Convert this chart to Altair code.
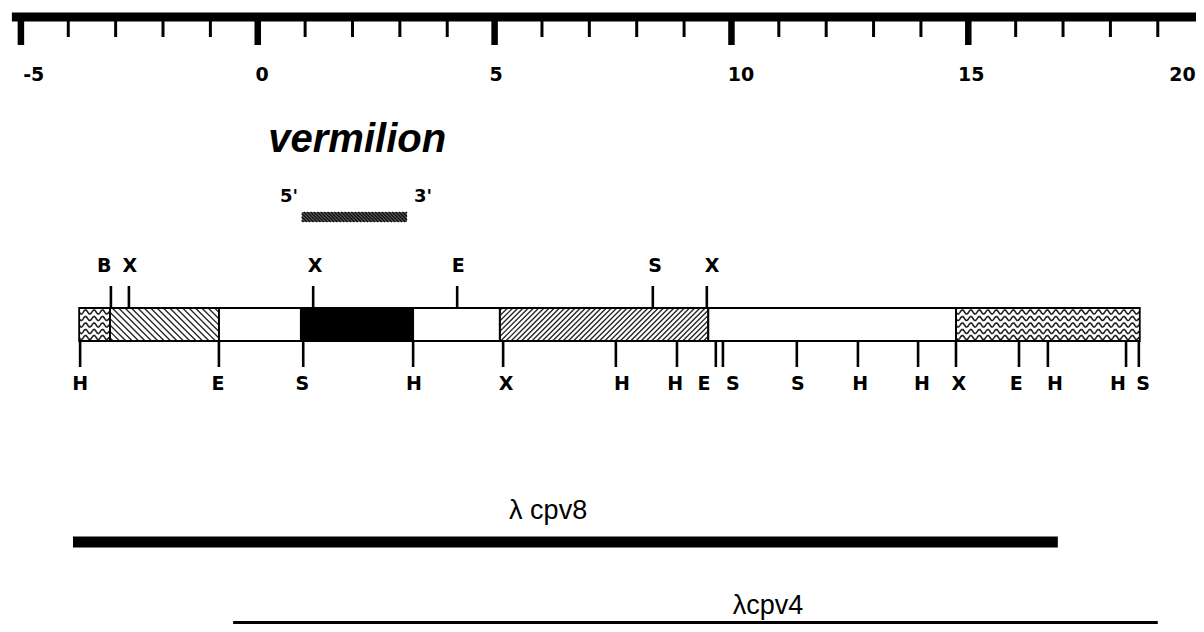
import altair as alt
import pandas as pd
import math

# ---------------- data (kb coordinates) ----------------
ruler_ticks = list(range(-5, 21))
ruler_major = [-5, 0, 5, 10, 15, 20]
ruler_labels = ["-5", "0", "5", "10", "15", "20"]
ruler_label_pos = [-4.73, 0.09, 5.03, 10.2, 15.06, 19.52]
ruler_extent = [-5.19, 20.5]

seg_start = [-3.77, -3.12, -0.82, 0.91, 3.28, 5.11, 9.51, 14.74]
seg_end = [-3.12, -0.82, 0.91, 3.28, 5.11, 9.51, 14.74, 18.62]
seg_kind = ["wavy", "hatch_back", "open", "solid", "open", "hatch_fwd", "open", "wavy"]

top_site_pos = [-3.10, -2.72, 1.17, 4.21, 8.34, 9.48]
top_site_lab = ["B", "X", "X", "E", "S", "X"]
top_label_pos = [-3.24, -2.70, 1.21, 4.23, 8.39, 9.59]

bot_site_pos = [-3.75, -0.82, 0.96, 3.28, 5.18, 7.56, 8.85, 9.67, 9.82,
                11.38, 12.67, 13.94, 14.74, 16.07, 16.68, 18.33, 18.60]
bot_site_lab = ["H", "E", "S", "H", "X", "H", "H", "E", "S",
                "S", "H", "H", "X", "E", "H", "H", "S"]
bot_label_pos = [-3.75, -0.84, 0.94, 3.30, 5.24, 7.69, 8.81, 9.42, 10.03,
                 11.40, 12.72, 14.02, 14.80, 16.01, 16.83, 18.16, 18.69]

gene_name = "vermilion"
gene_name_pos = 2.1
probe_extent = [0.93, 3.15]
probe_end_labels = ["5'", "3'"]
probe_end_pos = [0.66, 3.49]

clone_names = ["λ cpv8", "λcpv4"]
clone_start = [-3.90, -0.52]
clone_end = [16.89, 19.00]
clone_label_pos = [6.13, 10.77]

# ---------------- layout / style ----------------
W, H = 1188, 616
PX_PER_KB = 47.37
X_ORIGIN = 257.75  # page x of 0 kb
XS = alt.Scale(domain=[(8 - X_ORIGIN) / PX_PER_KB, (8 + W - X_ORIGIN) / PX_PER_KB],
               nice=False, zero=False)
YS = alt.Scale(domain=[8, 8 + H], reverse=True, nice=False, zero=False)

RULER_Y, MINOR_END, MAJOR_END, RULER_LAB_Y = 17, 37, 45, 75
BAR_TOP, BAR_BOT = 308, 341
TOP_TICK_END, BOT_TICK_END = 286, 367
TOP_LAB_Y, BOT_LAB_Y = 266, 384
GENE_Y = 140
PROBE_TOP, PROBE_BOT, PROBE_LAB_Y = 212, 222, 197
CLONE_Y = [542, 628]
CLONE_W = [11, 14]
CLONE_LAB_Y = [511, 606]

FONT = "Liberation Sans"
BOLD_FONT = "DejaVu Sans"


def X(f):
    return alt.X(f"{f}:Q", scale=XS, axis=None)


def Y(f):
    return alt.Y(f"{f}:Q", scale=YS, axis=None)


def hatch(x0, x1, yt, yb, spacing, direction):
    h = yb - yt
    w = (x1 - x0) * PX_PER_KB
    rows = []
    c = -h + spacing / 2
    while c < w:
        us, ue = max(c, 0), min(c + h, w)
        if us < ue:
            if direction == "back":
                vs, ve = us - c, ue - c
            else:
                vs, ve = c + h - us, c + h - ue
            rows.append({"x": x0 + us / PX_PER_KB, "x2": x0 + ue / PX_PER_KB,
                         "y": yt + vs, "y2": yt + ve})
        c += spacing
    return rows


def wavy(x0, x1, yt, yb, key):
    rows = []
    offsets = [4, 10.5, 17, 23.5, 29.5]
    period, amp = 8.5, 2.1
    w = (x1 - x0) * PX_PER_KB
    for r, off in enumerate(offsets):
        u = 0.0
        i = 0
        while u <= w + 1e-6:
            rows.append({"x": x0 + u / PX_PER_KB,
                         "y": yt + off + amp * math.sin(2 * math.pi * u / period),
                         "row": f"{key}-{r}", "i": i})
            u += 1.0
            i += 1
    return rows


# ---------------- ruler ----------------
ruler_line = alt.Chart(pd.DataFrame({"x": [ruler_extent[0]], "x2": [ruler_extent[1]],
                                     "y": [RULER_Y]})).mark_rule(
    color="black", strokeWidth=9, strokeCap="butt").encode(x=X("x"), x2=alt.X2("x2"), y=Y("y"))

tick_df = pd.DataFrame({"x": ruler_ticks})
tick_df["major"] = tick_df["x"].isin(ruler_major)
tick_df["y"] = RULER_Y
tick_df["y2"] = [MAJOR_END if m else MINOR_END for m in tick_df["major"]]
tick_df["w"] = [6.5 if m else 3 for m in tick_df["major"]]
ruler_ticks_layer = alt.Chart(tick_df).mark_rule(color="black", strokeCap="butt").encode(
    x=X("x"), y=Y("y"), y2=alt.Y2("y2"), strokeWidth=alt.StrokeWidth("w:Q", scale=None))

ruler_lab_df = pd.DataFrame({"x": ruler_label_pos, "t": ruler_labels, "y": RULER_LAB_Y})
ruler_labs = alt.Chart(ruler_lab_df).mark_text(
    font=BOLD_FONT, fontWeight="bold", fontSize=19, align="center", baseline="middle",
    color="black").encode(x=X("x"), y=Y("y"), text="t:N")

# ---------------- map ----------------
seg_df = pd.DataFrame({"x": seg_start, "x2": seg_end, "kind": seg_kind})
seg_df["y"] = BAR_TOP
seg_df["y2"] = BAR_BOT
seg_df["fillc"] = ["black" if k == "solid" else "white" for k in seg_kind]
seg_fill = alt.Chart(seg_df).mark_rect().encode(
    x=X("x"), x2=alt.X2("x2"), y=Y("y"), y2=alt.Y2("y2"),
    fill=alt.Fill("fillc:N", scale=None))

hatch_rows = []
wavy_rows = []
for i, (a, b, k) in enumerate(zip(seg_start, seg_end, seg_kind)):
    if k == "hatch_back":
        hatch_rows += hatch(a, b, BAR_TOP, BAR_BOT, 6.4, "back")
    elif k == "hatch_fwd":
        hatch_rows += hatch(a, b, BAR_TOP, BAR_BOT, 5.2, "fwd")
    elif k == "wavy":
        wavy_rows += wavy(a, b, BAR_TOP, BAR_BOT, i)
hatch_layer = alt.Chart(pd.DataFrame(hatch_rows)).mark_rule(
    color="#222", strokeWidth=1.3).encode(x=X("x"), x2=alt.X2("x2"), y=Y("y"), y2=alt.Y2("y2"))
wavy_layer = alt.Chart(pd.DataFrame(wavy_rows)).mark_line(
    color="#222", strokeWidth=1.6).encode(x=X("x"), y=Y("y"), detail="row:N",
                                          order=alt.Order("i:Q"))

seg_outline = alt.Chart(seg_df).mark_rect(filled=False, stroke="black", strokeWidth=1.8).encode(
    x=X("x"), x2=alt.X2("x2"), y=Y("y"), y2=alt.Y2("y2"))

top_df = pd.DataFrame({"x": top_site_pos, "y": TOP_TICK_END, "y2": BAR_TOP})
top_ticks = alt.Chart(top_df).mark_rule(color="black", strokeWidth=2.6).encode(
    x=X("x"), y=Y("y"), y2=alt.Y2("y2"))
bot_df = pd.DataFrame({"x": bot_site_pos, "y": BAR_BOT, "y2": BOT_TICK_END})
bot_ticks = alt.Chart(bot_df).mark_rule(color="black", strokeWidth=2.6).encode(
    x=X("x"), y=Y("y"), y2=alt.Y2("y2"))

top_lab_df = pd.DataFrame({"x": top_label_pos, "t": top_site_lab, "y": TOP_LAB_Y})
bot_lab_df = pd.DataFrame({"x": bot_label_pos, "t": bot_site_lab, "y": BOT_LAB_Y})
site_text = dict(font=BOLD_FONT, fontWeight="bold", fontSize=19, align="center",
                 baseline="middle", color="black")
top_labs = alt.Chart(top_lab_df).mark_text(**site_text).encode(x=X("x"), y=Y("y"), text="t:N")
bot_labs = alt.Chart(bot_lab_df).mark_text(**site_text).encode(x=X("x"), y=Y("y"), text="t:N")

# ---------------- gene and probe ----------------
gene = alt.Chart(pd.DataFrame({"x": [gene_name_pos], "t": [gene_name], "y": [GENE_Y]})).mark_text(
    font=FONT, fontWeight="bold", fontStyle="italic", fontSize=40, align="center",
    baseline="middle", color="black").encode(x=X("x"), y=Y("y"), text="t:N")

probe_df = pd.DataFrame({"x": [probe_extent[0]], "x2": [probe_extent[1]],
                         "y": [PROBE_TOP], "y2": [PROBE_BOT]})
probe = alt.Chart(probe_df).mark_rect(fill="#6a6a6a").encode(
    x=X("x"), x2=alt.X2("x2"), y=Y("y"), y2=alt.Y2("y2"))
probe_hatch = alt.Chart(pd.DataFrame(hatch(probe_extent[0], probe_extent[1],
                                           PROBE_TOP, PROBE_BOT, 3.4, "back"))).mark_rule(
    color="#111", strokeWidth=1.6).encode(x=X("x"), x2=alt.X2("x2"), y=Y("y"), y2=alt.Y2("y2"))
probe_labs = alt.Chart(pd.DataFrame({"x": probe_end_pos, "t": probe_end_labels,
                                     "y": PROBE_LAB_Y})).mark_text(
    font=BOLD_FONT, fontWeight="bold", fontSize=18, align="center", baseline="middle",
    color="black").encode(x=X("x"), y=Y("y"), text="t:N")

# ---------------- clones ----------------
clone_df = pd.DataFrame({"x": clone_start, "x2": clone_end, "y": CLONE_Y, "w": CLONE_W,
                         "name": clone_names, "lx": clone_label_pos, "ly": CLONE_LAB_Y})
clone_bars = alt.Chart(clone_df).mark_rule(color="black", strokeCap="butt").encode(
    x=X("x"), x2=alt.X2("x2"), y=Y("y"), strokeWidth=alt.StrokeWidth("w:Q", scale=None))
clone_labs = alt.Chart(clone_df).mark_text(
    font=FONT, fontSize=27, align="center", baseline="middle", color="black").encode(
    x=X("lx"), y=Y("ly"), text="name:N")

chart = alt.layer(
    ruler_line, ruler_ticks_layer, ruler_labs,
    seg_fill, hatch_layer, wavy_layer, seg_outline,
    top_ticks, bot_ticks, top_labs, bot_labs,
    gene, probe, probe_hatch, probe_labs,
    clone_bars, clone_labs,
).properties(
    width=W, height=H, padding=0,
    autosize=alt.AutoSizeParams(type="none"),
    background="white",
).configure_view(strokeWidth=0)

chart.save("out.html", embed_options={"renderer": "svg", "actions": False})
